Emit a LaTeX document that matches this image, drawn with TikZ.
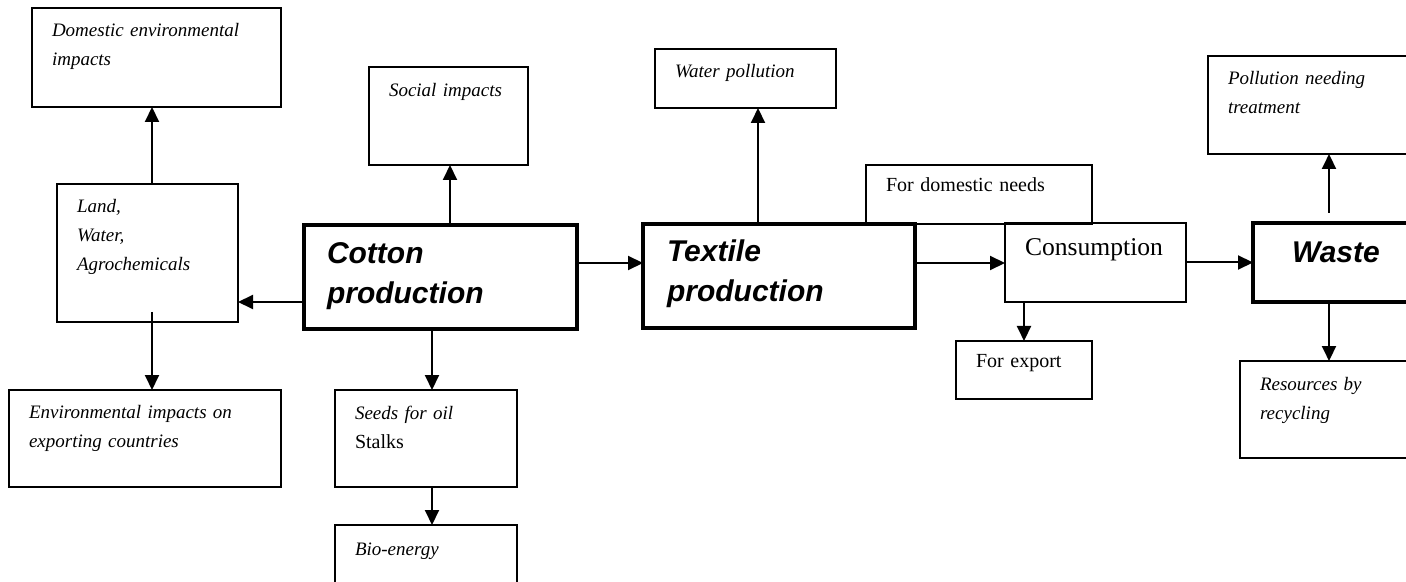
\documentclass[tikz,border=0pt]{standalone}
\usepackage{fontspec}
\setmainfont{Liberation Serif}[WordSpace=0.85]
\newfontfamily\headfont{Liberation Sans}
\usetikzlibrary{arrows.meta, positioning}

\begin{document}
\begin{tikzpicture}[
  x=0.5pt, y=-0.5pt,
  box/.style={draw, line width=1pt, anchor=north west, align=left, inner xsep=10pt,
              inner ysep=0pt, outer sep=0pt, text height=14.5pt,
              font=\fontsize{9.5}{14.5}\selectfont\itshape},
  rom/.style={font=\fontsize{10}{15}\selectfont},
  main/.style={draw, line width=2pt, anchor=north west, align=left, inner xsep=11.5pt,
               inner ysep=0pt, outer sep=0pt, text height=19.5pt,
               font=\headfont\fontsize{15}{19.75}\selectfont\bfseries\itshape},
  a/.style={-{Triangle[length=7.5pt, width=7pt]}, line width=1pt}]
  \useasboundingbox (0,0) rectangle (1406,582);
  \clip (0,0) rectangle (1406,582);
  \node[main, text width=113.5pt, text depth=32.5pt] (cot) at (304,225) {Cotton\\production};
  \node[main, text width=112pt, inner xsep=12pt, text height=19pt, text depth=33pt] (tex) at (643,224) {Textile\\production};
  \node[main, text width=49.5pt, inner xsep=19.5pt, text height=20pt, text depth=19.5pt] (was) at (1253,223) {Waste};
  \node[box, text width=104.5pt, text depth=35pt] (dom) at (32,8) {Domestic environmental\\impacts};
  \node[box, text width=70.5pt, text depth=54.5pt] (land) at (57,184) {Land,\\Water,\\Agrochemicals};
  \node[box, text width=116pt, text height=14pt, text depth=34.5pt] (env) at (9,390) {Environmental impacts on\\exporting countries};
  \node[box, text width=59.5pt, text height=15pt, text depth=34pt] (soc) at (369,67) {Social impacts};
  \node[box, text width=71pt, text depth=34pt] (seed) at (335,390) {Seeds for oil\\\upshape\fontsize{10}{15}\selectfont Stalks};
  \node[box, text width=71pt, text height=15pt, text depth=15pt] (bio) at (335,525) {Bio-energy};
  \node[box, text width=70.5pt, text depth=15pt] (wat) at (655,49) {Water pollution};
  \node[box, rom, text width=93pt, text height=13.5pt, text depth=16pt] (need) at (866,165) {For domestic needs};
  \node[box, font=\fontsize{12.8}{15}\selectfont, text width=70.5pt, text height=16.5pt, text depth=23pt] (cons) at (1005,223) {Consumption};
  \node[box, rom, text width=48pt, text height=13pt, text depth=16pt] (exp) at (956,341) {For export};
  \node[box, text width=91pt, text depth=34.5pt] (pol) at (1208,56) {Pollution needing\\treatment};
  \node[box, text width=75pt, text depth=34pt] (res) at (1240,361) {Resources by\\recycling};
  \draw[a] ([yshift=-12.5pt]cot.west) -- ([yshift=-12.5pt]cot.west -| land.east);
  \draw[a] ([xshift=2.25pt]land.north) -- ([xshift=2.25pt]land.north |- dom.south);
  \draw[a] ([xshift=2.25pt, yshift=5pt]land.south) -- ([xshift=2.25pt]land.south |- env.north);
  \draw[a] ([xshift=4.75pt]cot.north) -- ([xshift=4.75pt]cot.north |- soc.south);
  \draw[a] ([xshift=-4.25pt]cot.south) -- ([xshift=-4.25pt]cot.south |- seed.north);
  \draw[a] ([xshift=3pt]seed.south) -- ([xshift=3pt]seed.south |- bio.north);
  \draw[a] ([yshift=7pt]cot.east) -- ([yshift=7pt]cot.east -| tex.west);
  \draw[a] ([xshift=-10.5pt]tex.north) -- ([xshift=-10.5pt]tex.north |- wat.south);
  \draw[a] ([yshift=6.5pt]tex.east) -- ([yshift=6.5pt]tex.east -| cons.west);
  \draw[a] ([xshift=9.5pt]cons.south west) -- ([xshift=9.5pt]cons.south west |- exp.north);
  \draw[a] (cons.east) -- (cons.east -| was.west);
  \draw[a] ([xshift=38pt, yshift=5pt]was.north west) -- ([xshift=38pt]was.north west |- pol.south);
  \draw[a] ([xshift=38pt]was.south west) -- ([xshift=38pt]was.south west |- res.north);
\end{tikzpicture}
\end{document}
